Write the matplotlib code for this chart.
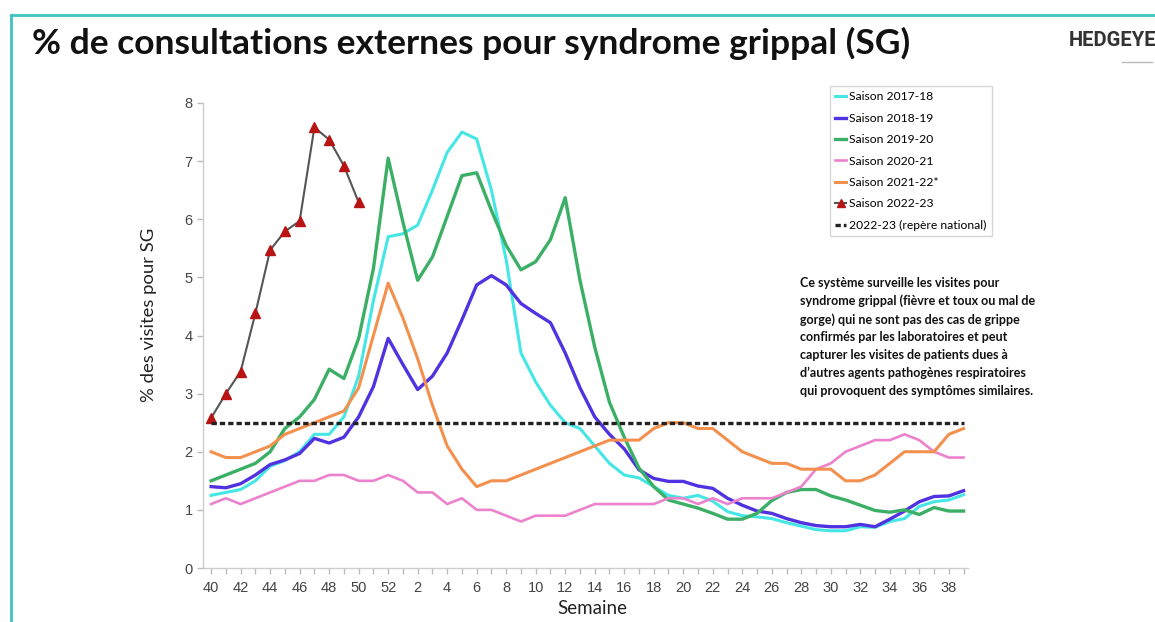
import matplotlib
matplotlib.use("Agg")
import matplotlib.pyplot as plt
import numpy as np
from matplotlib.lines import Line2D

# ---------------- data ----------------
weeks = [40, 41, 42, 43, 44, 45, 46, 47, 48, 49, 50, 51, 52] + list(range(1, 40))

s2017_18 = [1.25, 1.3, 1.35, 1.5, 1.75, 1.85, 2.0, 2.3, 2.3, 2.6, 3.3, 4.6, 5.7,
            5.75, 5.9, 6.5, 7.15, 7.5, 7.38, 6.5, 5.3, 3.7, 3.2, 2.8, 2.5, 2.4,
            2.1, 1.8, 1.6, 1.55, 1.4, 1.25, 1.2, 1.25, 1.15, 0.97, 0.9, 0.88, 0.85,
            0.78, 0.72, 0.66, 0.64, 0.64, 0.71, 0.7, 0.8, 0.85, 1.06, 1.14, 1.17, 1.26]

s2018_19 = [1.4, 1.38, 1.45, 1.6, 1.78, 1.86, 1.97, 2.23, 2.15, 2.25, 2.6, 3.12, 3.95,
            3.5, 3.07, 3.3, 3.7, 4.27, 4.87, 5.03, 4.87, 4.55, 4.38, 4.22, 3.7, 3.1,
            2.6, 2.3, 2.05, 1.69, 1.54, 1.49, 1.49, 1.41, 1.37, 1.2, 1.08, 0.98, 0.94,
            0.85, 0.78, 0.73, 0.71, 0.71, 0.75, 0.71, 0.84, 0.98, 1.14, 1.23, 1.24, 1.33]

s2019_20 = [1.5, 1.6, 1.7, 1.8, 2.0, 2.4, 2.6, 2.9, 3.42, 3.26, 3.95, 5.15, 7.05,
            5.95, 4.95, 5.35, 6.05, 6.75, 6.8, 6.15, 5.55, 5.13, 5.27, 5.65, 6.37, 4.95,
            3.8, 2.85, 2.25, 1.72, 1.4, 1.17, 1.1, 1.03, 0.94, 0.84, 0.84, 0.94, 1.16,
            1.3, 1.35, 1.35, 1.24, 1.17, 1.08, 0.99, 0.96, 1.0, 0.92, 1.04, 0.98, 0.98]

s2020_21 = [1.1, 1.2, 1.1, 1.2, 1.3, 1.4, 1.5, 1.5, 1.6, 1.6, 1.5, 1.5, 1.6,
            1.5, 1.3, 1.3, 1.1, 1.2, 1.0, 1.0, 0.9, 0.8, 0.9, 0.9, 0.9, 1.0,
            1.1, 1.1, 1.1, 1.1, 1.1, 1.2, 1.2, 1.1, 1.2, 1.1, 1.2, 1.2, 1.2,
            1.3, 1.4, 1.7, 1.8, 2.0, 2.1, 2.2, 2.2, 2.3, 2.2, 2.0, 1.9, 1.9]

s2021_22 = [2.0, 1.9, 1.9, 2.0, 2.1, 2.3, 2.4, 2.5, 2.6, 2.7, 3.1, 4.0, 4.9,
            4.3, 3.6, 2.8, 2.1, 1.7, 1.4, 1.5, 1.5, 1.6, 1.7, 1.8, 1.9, 2.0,
            2.1, 2.2, 2.2, 2.2, 2.4, 2.5, 2.5, 2.4, 2.4, 2.2, 2.0, 1.9, 1.8,
            1.8, 1.7, 1.7, 1.7, 1.5, 1.5, 1.6, 1.8, 2.0, 2.0, 2.0, 2.3, 2.4]

s2022_23 = [2.58, 3.0, 3.38, 4.38, 5.47, 5.79, 5.97, 7.58, 7.37, 6.92, 6.29]

baseline_2022_23 = 2.5

series_labels = ["Saison 2017-18", "Saison 2018-19", "Saison 2019-20",
                 "Saison 2020-21", "Saison 2021-22*", "Saison 2022-23",
                 "2022-23 (repère national)"]

yticks = [0, 1, 2, 3, 4, 5, 6, 7, 8]

title = "% de consultations externes pour syndrome grippal (SG)"
note = ("Ce système surveille les visites pour\n"
        "syndrome grippal (fièvre et toux ou mal de\n"
        "gorge) qui ne sont pas des cas de grippe\n"
        "confirmés par les laboratoires et peut\n"
        "capturer les visites de patients dues à\n"
        "d’autres agents pathogènes respiratoires\n"
        "qui provoquent des symptômes similaires.")

# ---------------- figure ----------------
W, H = 1155, 622
fig = plt.figure(figsize=(W / 100, H / 100), dpi=100)
fig.patch.set_facecolor("white")

def fx(px):
    return px / W

def fy(py):
    return 1 - py / H

# teal frame (left + top)
teal = "#3fc4c4"
fig.add_artist(Line2D([fx(11), fx(11)], [fy(15), 0], color=teal, lw=2.0, transform=fig.transFigure))
fig.add_artist(Line2D([fx(11), 1], [fy(15), fy(15)], color=teal, lw=2.0, transform=fig.transFigure))

fig.text(fx(32), fy(43), title, fontsize=25.5, fontweight="bold", family="Lato",
         color="#111111", ha="left", va="center")
fig.text(fx(1156), fy(41), "HEDGEYE", fontsize=14.5, fontweight="bold", family="Roboto",
         color="#333333", ha="right", va="center")
fig.add_artist(Line2D([fx(1122), fx(1152)], [fy(62), fy(62)], color="#bbbbbb", lw=1.0,
                      transform=fig.transFigure))

ax = fig.add_axes([fx(203), fy(568), fx(968) - fx(203), fy(103) - fy(568)])
x = np.arange(len(weeks))

ax.plot(x, s2017_18, color="#44e6e6", lw=2.2, label=series_labels[0])
ax.plot(x, s2018_19, color="#5032e0", lw=2.4, label=series_labels[1])
ax.plot(x, s2019_20, color="#3caf66", lw=2.4, label=series_labels[2])
ax.plot(x, s2020_21, color="#ec82cc", lw=1.9, label=series_labels[3])
ax.plot(x, s2021_22, color="#f4904e", lw=2.2, label=series_labels[4])
ax.plot(x[:len(s2022_23)], s2022_23, color="#555555", lw=1.5, marker="^",
        markersize=7, markerfacecolor="#b81414", markeredgecolor="#b81414",
        label=series_labels[5])
ax.plot(x, [baseline_2022_23] * len(x), color="#222222", lw=2.4,
        linestyle=(0, (1.6, 0.9)), label=series_labels[6])

ax.set_xlim(-0.55, 51.3)
ax.set_ylim(0, 8)

ax.set_xticks(x[::2])
ax.set_xticklabels([str(w) for w in weeks[::2]])
ax.set_xticks(x, minor=True)
ax.set_yticks(yticks)

for sp in ["top", "right"]:
    ax.spines[sp].set_visible(False)
for sp in ["left", "bottom"]:
    ax.spines[sp].set_color("#cccccc")
    ax.spines[sp].set_linewidth(1.0)

ax.tick_params(axis="both", which="both", color="#bbbbbb", length=4, width=1.0,
               labelcolor="#444444", labelsize=10.5)
ax.tick_params(axis="x", which="major", pad=5)
for lbl in ax.get_xticklabels() + ax.get_yticklabels():
    lbl.set_family("Liberation Sans")

ax.set_ylabel("% des visites pour SG", fontsize=13.3, family="Lato", color="#222222")
ax.yaxis.set_label_coords((157 - 203) / 765, (568 - 315) / 465)
ax.set_xlabel("Semaine", fontsize=13.5, family="Lato", color="#222222")
ax.xaxis.set_label_coords((592 - 203) / 765, (568 - 600) / 465)

leg = ax.legend(loc="upper left", bbox_to_anchor=(fx(830), fy(86)),
                bbox_transform=fig.transFigure, frameon=True, fancybox=False,
                prop={"family": "Lato", "size": 8.7}, handlelength=0.9,
                handletextpad=0.25, labelspacing=0.86, borderpad=0.45,
                borderaxespad=0.0, markerscale=0.8)
leg.get_frame().set_edgecolor("#cccccc")
leg.get_frame().set_linewidth(1.0)

fig.text(fx(800), fy(277), note, fontsize=9.0, fontweight="bold", family="Lato",
         color="#111111", ha="left", va="top", linespacing=1.55)

fig.savefig("out.png", dpi=100)
